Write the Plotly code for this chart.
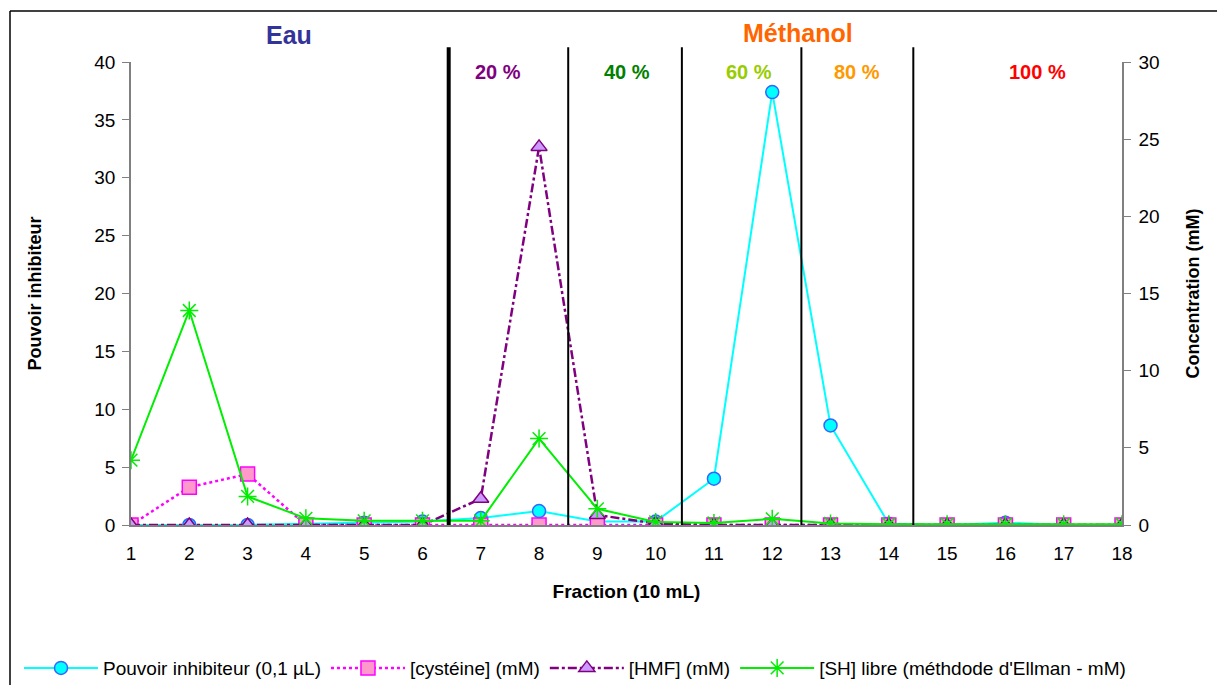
import plotly.graph_objects as go

fractions = list(range(1, 19))

# left axis
pouvoir = [0, 0, 0, 0.1, 0.2, 0.3, 0.6, 1.2, 0.3, 0.3, 4.0, 37.4, 8.6, 0.1, 0, 0.2, 0, 0]
# right axis (mM)
cysteine = [0, 2.45, 3.3, 0, 0, 0, 0, 0, 0, 0, 0, 0, 0, 0, 0, 0, 0, 0]
hmf = [0, 0, 0, 0, 0, 0, 1.7, 24.5, 0.65, 0.1, 0, 0, 0, 0, 0, 0, 0, 0]
sh_libre = [4.2, 13.9, 1.85, 0.43, 0.27, 0.27, 0.27, 5.6, 1.05, 0.2, 0.13, 0.4, 0.1, 0.05, 0.05, 0.05, 0.05, 0.05]

separators = [6.45, 8.5, 10.45, 12.5, 14.42]
separator_widths = [4, 2, 2, 2, 2]
zones = ['20 %', '40 %', '60 %', '80 %', '100 %']
zone_x = [7.3, 9.5, 11.6, 13.45, 16.55]
zone_colors = ['#800080', '#008000', '#99CC00', '#FF9900', '#FF0000']

font = 'Liberation Sans, Arial, sans-serif'

fig = go.Figure()

fig.add_trace(go.Scatter(
    x=fractions, y=pouvoir, name='Pouvoir inhibiteur (0,1 µL)',
    mode='lines+markers', line=dict(color='#00FFFF', width=2),
    marker=dict(symbol='circle', size=13, color='#00FFFF', line=dict(color='#3366FF', width=1.5)),
    yaxis='y'
))
fig.add_trace(go.Scatter(
    x=fractions, y=cysteine, name='[cystéine] (mM)',
    mode='lines+markers', line=dict(color='#FF00FF', width=2.5, dash='dot'),
    marker=dict(symbol='square', size=14, color='#FF99CC', line=dict(color='#FF00FF', width=1.5)),
    yaxis='y2'
))
fig.add_trace(go.Scatter(
    x=fractions, y=hmf, name='[HMF] (mM)',
    mode='lines+markers', line=dict(color='#800080', width=2.5, dash='dashdot'),
    marker=dict(symbol='triangle-up', size=14, color='#CC99FF', line=dict(color='#800080', width=1.5)),
    yaxis='y2'
))
fig.add_trace(go.Scatter(
    x=fractions, y=sh_libre, name="[SH] libre (méthdode d'Ellman - mM)",
    mode='lines+markers', line=dict(color='#00EE00', width=2),
    marker=dict(symbol='asterisk-open', size=15, color='#00EE00', line=dict(color='#00EE00', width=1.5)),
    yaxis='y2'
))

for xs, w in zip(separators, separator_widths):
    fig.add_shape(type='line', xref='x', yref='paper', x0=xs, x1=xs, y0=0, y1=1.032,
                  line=dict(color='black', width=w))

for txt, xz, col in zip(zones, zone_x, zone_colors):
    fig.add_annotation(x=xz, y=0.978, xref='x', yref='paper', text='<b>' + txt + '</b>',
                       xanchor='center', yanchor='middle', showarrow=False,
                       font=dict(family=font, size=20, color=col))

fig.add_annotation(x=3.71, y=1.058, xref='x', yref='paper', text='<b>Eau</b>', showarrow=False,
                   xanchor='center', yanchor='middle',
                   font=dict(family=font, size=25, color='#333399'))
fig.add_annotation(x=12.45, y=1.062, xref='x', yref='paper', text='<b>Méthanol</b>', showarrow=False,
                   xanchor='center', yanchor='middle',
                   font=dict(family=font, size=25, color='#FF6600'))

# outer frame (only top and left edges fall inside the picture)
frame_top = 1 + 51 / 463
frame_left = -121 / 991
fig.add_shape(type='line', xref='paper', yref='paper', x0=frame_left, x1=1.4, y0=frame_top, y1=frame_top,
              line=dict(color='black', width=1.5))
fig.add_shape(type='line', xref='paper', yref='paper', x0=frame_left, x1=frame_left, y0=-0.5, y1=frame_top,
              line=dict(color='black', width=1.5))

fig.update_layout(
    width=1225, height=685,
    margin=dict(l=123, r=111, t=54, b=168, autoexpand=False),
    plot_bgcolor='white', paper_bgcolor='white',
    font=dict(family=font, size=19, color='black'),
    showlegend=True,
    legend=dict(orientation='h', x=-0.113, xanchor='left', y=-0.309, yanchor='middle',
                font=dict(family=font, size=19), itemwidth=74, tracegroupgap=0),
    xaxis=dict(range=[1, 18], tickvals=fractions, showgrid=False, zeroline=False,
               showline=True, linecolor='#808080', linewidth=1.5, ticks='',
               tickfont=dict(size=19), ticklabelstandoff=10,
               title=dict(text='<b>Fraction (10 mL)</b>', font=dict(size=19), standoff=22)),
    yaxis=dict(range=[0, 40], dtick=5, showgrid=False, zeroline=False,
               showline=True, linecolor='#808080', linewidth=1.5, ticks='outside', ticklen=7,
               tickcolor='#808080', tickfont=dict(size=19), ticklabelstandoff=3,
               title=dict(text='<b>Pouvoir inhibiteur</b>', font=dict(size=18), standoff=48)),
    yaxis2=dict(range=[0, 30], dtick=5, overlaying='y', side='right', showgrid=False, zeroline=False,
                showline=True, linecolor='#808080', linewidth=1.5, ticks='outside', ticklen=7,
                tickcolor='#808080', tickfont=dict(size=19), ticklabelstandoff=4,
                title=dict(text='<b>Concentration (mM)</b>', font=dict(size=18), standoff=28)),
)

fig.write_html('out.html')
